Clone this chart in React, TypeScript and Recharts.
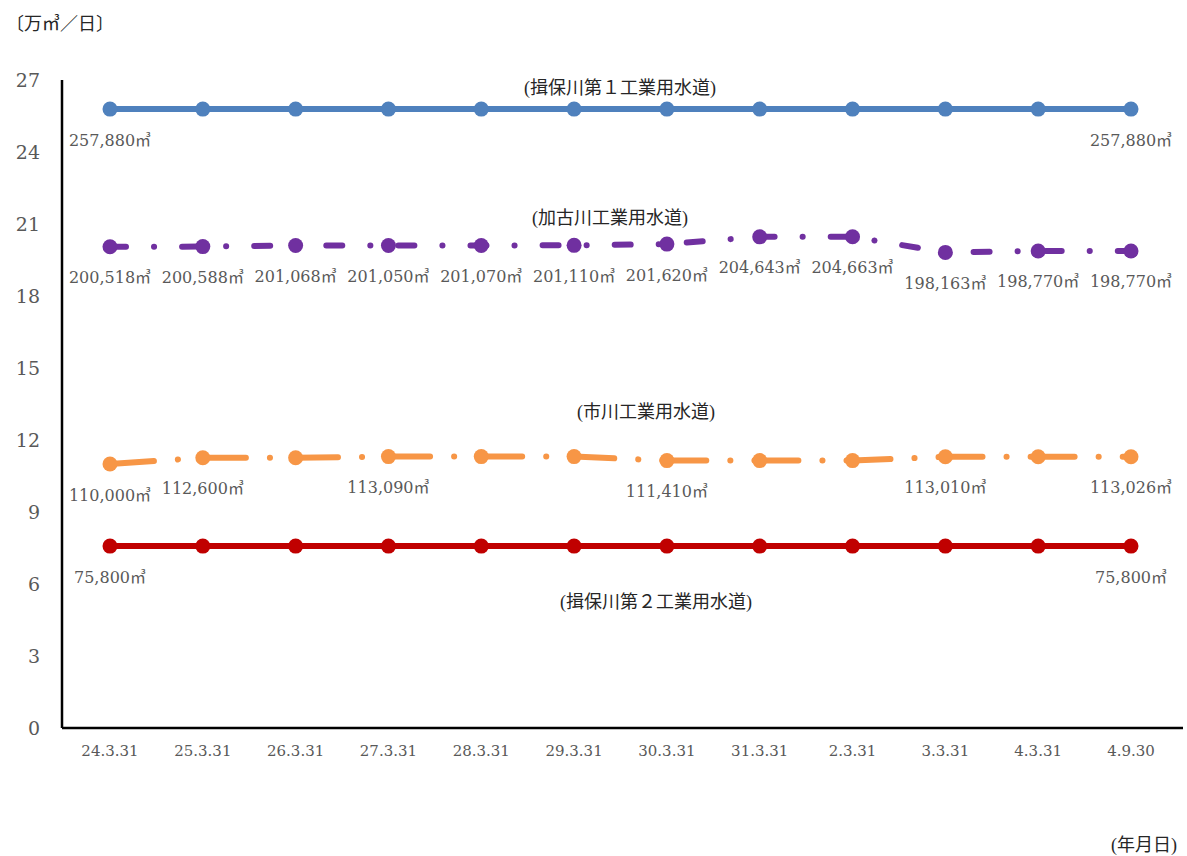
import React from 'react';
import { LineChart, Line, XAxis, YAxis, LabelList } from 'recharts';

// Fiscal dates (year.month.day)
const dates = ['24.3.31', '25.3.31', '26.3.31', '27.3.31', '28.3.31', '29.3.31', '30.3.31', '31.3.31', '2.3.31', '3.3.31', '4.3.31', '4.9.30'];

// Contracted daily volumes, m³/day
const ibogawa1 = [257880, 257880, 257880, 257880, 257880, 257880, 257880, 257880, 257880, 257880, 257880, 257880];
const kakogawa = [200518, 200588, 201068, 201050, 201070, 201110, 201620, 204643, 204663, 198163, 198770, 198770];
const ichikawa = [110000, 112600, 112600, 113090, 113090, 113090, 111410, 111410, 111410, 113010, 113010, 113026];
const ibogawa2 = [75800, 75800, 75800, 75800, 75800, 75800, 75800, 75800, 75800, 75800, 75800, 75800];

const yTicks = [0, 3, 6, 9, 12, 15, 18, 21, 24, 27];

const rows = dates.map((d, i) => ({
  date: d,
  ibo1: ibogawa1[i] / 10000,
  kako: kakogawa[i] / 10000,
  ichi: ichikawa[i] / 10000,
  ibo2: ibogawa2[i] / 10000,
  raw: { ibo1: ibogawa1[i], kako: kakogawa[i], ichi: ichikawa[i], ibo2: ibogawa2[i] },
}));

const NUM_FONT = "'DejaVu Serif', 'Liberation Serif', 'Noto Sans CJK JP', serif";
const NAME_FONT = "'Liberation Serif', 'Noto Sans CJK JP', serif";
const GREY = '#595959';

type SeriesCfg = {
  key: 'ibo1' | 'kako' | 'ichi' | 'ibo2';
  color: string;
  dash?: string;
  labelIdx: number[];
  name: string;
  nameIdx: number;
  nameDx: number;
  nameDy: number;
};

const series: SeriesCfg[] = [
  { key: 'ibo1', color: '#4F81BD', labelIdx: [0, 11], name: '(揖保川第１工業用水道)', nameIdx: 5, nameDx: 46, nameDy: -21 },
  { key: 'kako', color: '#7030A0', dash: '16 28 0.1 28', labelIdx: [0, 1, 2, 3, 4, 5, 6, 7, 8, 9, 10, 11], name: '(加古川工業用水道)', nameIdx: 5, nameDx: 36, nameDy: -27 },
  { key: 'ichi', color: '#F79646', dash: '44 24 0.1 24', labelIdx: [0, 1, 3, 6, 9, 11], name: '(市川工業用水道)', nameIdx: 6, nameDx: -21, nameDy: -49 },
  { key: 'ibo2', color: '#C00000', labelIdx: [0, 11], name: '(揖保川第２工業用水道)', nameIdx: 6, nameDx: -11, nameDy: 56 },
];

const makeLabel = (s: SeriesCfg) => (props: any) => {
  const { x, y, index } = props;
  if (x == null || y == null) return null;
  const out: React.ReactNode[] = [];
  if (s.labelIdx.includes(index)) {
    const v = rows[index].raw[s.key];
    out.push(
      <text key="v" x={x} y={y + 31} textAnchor="middle" dominantBaseline="central" fontFamily={NUM_FONT} fontSize={16} fill={GREY}>
        {v.toLocaleString('en-US')}㎥
      </text>
    );
  }
  if (index === s.nameIdx) {
    out.push(
      <text key="n" x={x + s.nameDx} y={y + s.nameDy} textAnchor="middle" dominantBaseline="central" fontFamily={NAME_FONT} fontSize={18} fill="#262626">
        {s.name}
      </text>
    );
  }
  return <g>{out}</g>;
};

export default function App() {
  return (
    <div style={{ position: 'absolute', left: 0, top: 0, width: 1187, height: 856, background: '#fff' }}>
      <div style={{ position: 'absolute', left: 6, top: 9, fontFamily: NAME_FONT, fontSize: 18, color: '#262626', whiteSpace: 'nowrap' }}>
        〔万㎥／日〕
      </div>
      <div style={{ position: 'absolute', left: 1111, top: 830, fontFamily: NAME_FONT, fontSize: 18, color: '#262626', whiteSpace: 'nowrap' }}>
        (年月日)
      </div>
      <LineChart width={1187} height={856} data={rows} margin={{ top: 80, right: 4, bottom: 98, left: 0 }}>
        <XAxis
          dataKey="date"
          height={30}
          padding={{ left: 48, right: 52 }}
          axisLine={{ stroke: '#000', strokeWidth: 2.5 }}
          tickLine={false}
          tickSize={0}
          tickMargin={17}
          tick={{ fill: GREY, fontSize: 15, fontFamily: NUM_FONT }}
          interval={0}
        />
        <YAxis
          width={62}
          domain={[0, 27]}
          ticks={yTicks}
          allowDataOverflow
          axisLine={{ stroke: '#000', strokeWidth: 2.5 }}
          tickLine={false}
          tickSize={0}
          tickMargin={22}
          tick={{ fill: GREY, fontSize: 19, fontFamily: NUM_FONT }}
        />
        {series.map((s) => (
          <Line
            key={s.key}
            type="linear"
            dataKey={s.key}
            stroke={s.color}
            strokeWidth={6}
            strokeDasharray={s.dash}
            strokeLinecap="round"
            dot={{ r: 7.5, fill: s.color, stroke: 'none', strokeWidth: 0 }}
            activeDot={false}
            isAnimationActive={false}
          >
            <LabelList dataKey={s.key} content={makeLabel(s)} />
          </Line>
        ))}
      </LineChart>
    </div>
  );
}
